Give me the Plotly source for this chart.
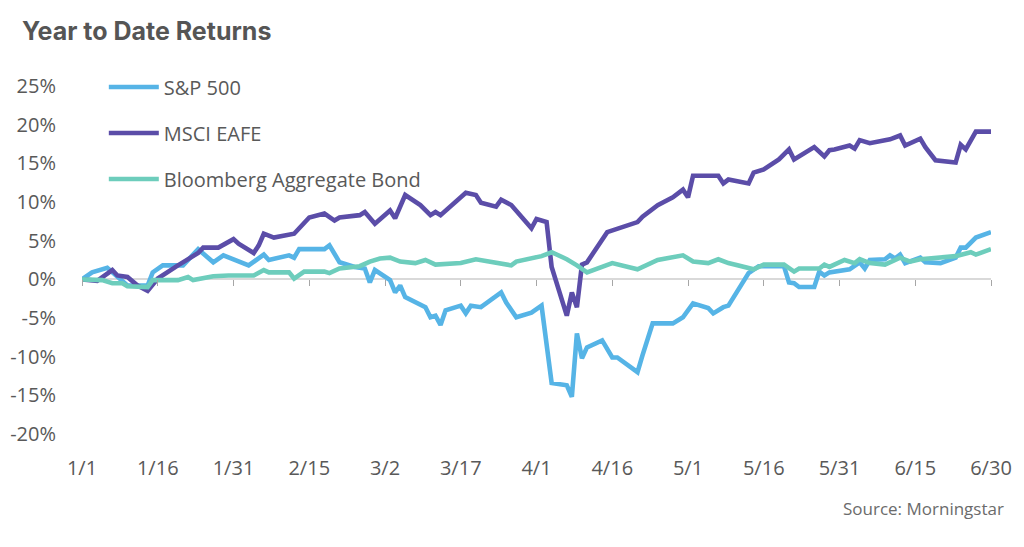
import plotly.graph_objects as go

# ---------------- data ----------------
sp_dates = ["2025-01-01","2025-01-03","2025-01-06","2025-01-08","2025-01-10","2025-01-14","2025-01-15",
            "2025-01-17","2025-01-21","2025-01-24","2025-01-27","2025-01-29","2025-01-31","2025-02-03",
            "2025-02-06","2025-02-07","2025-02-11","2025-02-12","2025-02-13","2025-02-18","2025-02-19",
            "2025-02-21","2025-02-24","2025-02-26","2025-02-27","2025-02-28","2025-03-03","2025-03-04",
            "2025-03-05","2025-03-06","2025-03-10","2025-03-11","2025-03-12","2025-03-13","2025-03-14",
            "2025-03-17","2025-03-18","2025-03-19","2025-03-21","2025-03-25","2025-03-26","2025-03-28",
            "2025-03-31","2025-04-02","2025-04-04","2025-04-07","2025-04-08","2025-04-09","2025-04-10",
            "2025-04-11","2025-04-14","2025-04-16","2025-04-17","2025-04-21","2025-04-22","2025-04-23",
            "2025-04-24","2025-04-28","2025-04-29","2025-04-30","2025-05-02","2025-05-05","2025-05-06",
            "2025-05-08","2025-05-09","2025-05-12","2025-05-13","2025-05-15","2025-05-20","2025-05-21",
            "2025-05-22","2025-05-23","2025-05-26","2025-05-27","2025-05-28","2025-05-29","2025-06-02",
            "2025-06-04","2025-06-05","2025-06-06","2025-06-09","2025-06-10","2025-06-11","2025-06-12",
            "2025-06-13","2025-06-16","2025-06-17","2025-06-20","2025-06-23","2025-06-24","2025-06-25",
            "2025-06-27","2025-06-30"]
sp_values = [0.0, 0.9, 1.5, 0.3, -0.8, -0.8, 0.9,
             1.8, 1.8, 3.9, 2.2, 3.1, 2.6, 1.8,
             3.2, 2.5, 3.1, 2.8, 3.9, 3.9, 4.4,
             2.2, 1.6, 1.4, -0.4, 1.2, -0.1, -1.7,
             -0.8, -2.3, -3.6, -4.9, -4.7, -5.9, -4.0,
             -3.4, -4.4, -3.4, -3.6, -1.7, -3.0, -4.9,
             -4.3, -3.4, -13.4, -13.7, -15.2, -7.0, -10.2,
             -8.8, -7.9, -10.1, -10.1, -12.0, -9.8, -7.9,
             -5.7, -5.7, -5.3, -4.9, -3.1, -3.7, -4.4,
             -3.6, -3.4, -0.4, 0.8, 1.7, 1.7, -0.4,
             -0.5, -1.0, -1.0, 1.0, 0.5, 0.9, 1.3,
             2.2, 1.4, 2.5, 2.6, 3.1, 2.7, 3.2,
             2.1, 2.8, 2.2, 2.1, 2.8, 4.1, 4.1,
             5.4, 6.1]

eafe_dates = ["2025-01-01","2025-01-04","2025-01-07","2025-01-08","2025-01-10","2025-01-12","2025-01-14",
              "2025-01-15","2025-01-16","2025-01-20","2025-01-24","2025-01-25","2025-01-28","2025-01-31",
              "2025-02-01","2025-02-04","2025-02-05","2025-02-06","2025-02-08","2025-02-12","2025-02-14",
              "2025-02-15","2025-02-18","2025-02-20","2025-02-21","2025-02-25","2025-02-26","2025-02-28",
              "2025-03-03","2025-03-04","2025-03-06","2025-03-09","2025-03-11","2025-03-12","2025-03-13",
              "2025-03-15","2025-03-17","2025-03-18","2025-03-20","2025-03-21","2025-03-24","2025-03-25",
              "2025-03-27","2025-03-31","2025-04-01","2025-04-03","2025-04-04","2025-04-07","2025-04-08",
              "2025-04-09","2025-04-10","2025-04-11","2025-04-15","2025-04-16","2025-04-18","2025-04-21",
              "2025-04-22","2025-04-25","2025-04-28","2025-04-30","2025-05-01","2025-05-02","2025-05-07",
              "2025-05-08","2025-05-09","2025-05-13","2025-05-14","2025-05-16","2025-05-19","2025-05-21",
              "2025-05-22","2025-05-26","2025-05-28","2025-05-29","2025-05-30","2025-06-02","2025-06-03",
              "2025-06-04","2025-06-06","2025-06-10","2025-06-12","2025-06-13","2025-06-16","2025-06-17",
              "2025-06-19","2025-06-23","2025-06-24","2025-06-25","2025-06-27","2025-06-30"]
eafe_values = [0.0, -0.2, 1.2, 0.5, 0.3, -0.8, -1.5,
               -0.8, 0.1, 1.8, 3.4, 4.1, 4.1, 5.2,
               4.6, 3.4, 4.4, 5.9, 5.4, 5.9, 7.2,
               8.0, 8.5, 7.6, 8.0, 8.3, 8.7, 7.2,
               8.9, 7.9, 10.9, 9.6, 8.3, 8.7, 8.3,
               9.4, 10.5, 11.2, 10.9, 9.9, 9.4, 10.3,
               9.6, 6.6, 7.8, 7.4, 1.6, -4.7, -1.7,
               -3.6, 1.9, 2.2, 6.1, 6.3, 6.7, 7.4,
               8.1, 9.6, 10.6, 11.6, 10.6, 13.4, 13.4,
               12.4, 12.9, 12.4, 13.8, 14.2, 15.5, 16.8,
               15.5, 17.1, 15.9, 16.7, 16.8, 17.3, 16.9,
               18.0, 17.6, 18.1, 18.6, 17.3, 18.2, 17.1,
               15.4, 15.1, 17.4, 16.8, 19.1, 19.1]

bond_dates = ["2025-01-01","2025-01-05","2025-01-07","2025-01-09","2025-01-10","2025-01-14","2025-01-15",
              "2025-01-20","2025-01-22","2025-01-23","2025-01-27","2025-01-30","2025-02-04","2025-02-06",
              "2025-02-07","2025-02-11","2025-02-12","2025-02-14","2025-02-18","2025-02-19","2025-02-21",
              "2025-02-25","2025-02-27","2025-03-01","2025-03-03","2025-03-05","2025-03-08","2025-03-10",
              "2025-03-12","2025-03-17","2025-03-20","2025-03-25","2025-03-27","2025-03-28","2025-03-31",
              "2025-04-02","2025-04-04","2025-04-07","2025-04-09","2025-04-11","2025-04-16","2025-04-21",
              "2025-04-25","2025-04-28","2025-04-30","2025-05-02","2025-05-05","2025-05-07","2025-05-09",
              "2025-05-11","2025-05-14","2025-05-16","2025-05-20","2025-05-22","2025-05-23","2025-05-27",
              "2025-05-28","2025-05-29","2025-05-31","2025-06-01","2025-06-03","2025-06-04","2025-06-06",
              "2025-06-09","2025-06-12","2025-06-14","2025-06-16","2025-06-20","2025-06-23","2025-06-26",
              "2025-06-27","2025-06-30"]
bond_values = [0.0, -0.1, -0.5, -0.5, -0.9, -1.0, -0.1,
               -0.1, 0.3, -0.1, 0.4, 0.5, 0.5, 1.2,
               0.9, 0.9, 0.1, 1.0, 1.0, 0.8, 1.4,
               1.7, 2.3, 2.7, 2.8, 2.3, 2.1, 2.5,
               1.9, 2.1, 2.6, 2.1, 1.8, 2.3, 2.7,
               3.0, 3.5, 2.6, 1.8, 0.9, 2.1, 1.3,
               2.5, 2.8, 3.1, 2.3, 2.1, 2.6, 2.1,
               1.8, 1.3, 1.9, 1.9, 1.0, 1.4, 1.4,
               1.9, 1.6, 2.3, 2.5, 2.1, 2.6, 2.1,
               1.9, 2.8, 2.3, 2.6, 2.8, 3.0, 3.5,
               3.2, 3.9]

tick_dates = ["2025-01-01","2025-01-16","2025-01-31","2025-02-15","2025-03-02","2025-03-17","2025-04-01",
              "2025-04-16","2025-05-01","2025-05-16","2025-05-31","2025-06-15","2025-06-30"]
tick_labels = ["1/1","1/16","1/31","2/15","3/2","3/17","4/1","4/16","5/1","5/16","5/31","6/15","6/30"]
y_ticks = [-20, -15, -10, -5, 0, 5, 10, 15, 20, 25]
y_labels = [f"{v}%" for v in y_ticks]

series_names = ["S&P 500", "MSCI EAFE", "Bloomberg Aggregate Bond"]
series_colors = ["#56B4E6", "#5B4DA8", "#6DCDBC"]

# ---------------- figure ----------------
fig = go.Figure()
for name, xs, ys, col in zip(series_names,
                             [sp_dates, eafe_dates, bond_dates],
                             [sp_values, eafe_values, bond_values],
                             series_colors):
    fig.add_trace(go.Scatter(x=xs, y=ys, mode="lines", name=name, legendgroup=name,
                             line=dict(color=col, width=4.6)))

# helper trace so the zero-crossing tick axis is drawn
fig.add_trace(go.Scatter(x=[], y=[], xaxis="x2", showlegend=False, hoverinfo="skip"))

y_min, y_max = -20, 25
TXT = "#595959"
# page body has an 8px default margin, so the figure is drawn 8px smaller
fig.update_layout(
    width=1016, height=539,
    margin=dict(l=74, r=33, t=78, b=113),
    paper_bgcolor="white", plot_bgcolor="white",
    font=dict(family="Open Sans", size=20, color=TXT),
    title=dict(text="<b>Year to Date Returns</b>", x=14/1016, xref="container", xanchor="left",
               y=1-23/539, yref="container", yanchor="middle",
               font=dict(family="Inter", size=25, color="#555555")),
    showlegend=True,
    legend=dict(x=0.024, y=1.053, xanchor="left", yanchor="top", bgcolor="rgba(0,0,0,0)",
                font=dict(size=20, color=TXT), traceorder="grouped", tracegroupgap=17,
                itemwidth=50),
    xaxis=dict(type="date", range=[tick_dates[0], tick_dates[-1]], tickmode="array",
               tickvals=tick_dates, ticktext=tick_labels, showgrid=False, showline=False,
               zeroline=False, ticks="", ticklabelstandoff=20, automargin=False),
    xaxis2=dict(type="date", overlaying="x", matches="x", anchor="free",
                position=(0 - y_min) / (y_max - y_min), tickmode="array", tickvals=tick_dates,
                showticklabels=False, ticks="outside", ticklen=6, tickwidth=1.2,
                tickcolor="#A6A6A6", showgrid=False, showline=False, zeroline=False,
                automargin=False),
    yaxis=dict(range=[y_min, y_max], tickmode="array", tickvals=y_ticks, ticktext=y_labels,
               showgrid=False, showline=False, ticks="", zeroline=True,
               zerolinecolor="#D9D9D9", zerolinewidth=1.5, ticklabelstandoff=25,
               automargin=False),
    annotations=[dict(text="Source: Morningstar", xref="paper", yref="paper", x=1.016, y=-0.215,
                      xanchor="right", yanchor="middle", showarrow=False,
                      font=dict(family="Open Sans", size=17, color="#6B6B6B"))],
)

fig.write_html("out.html")
